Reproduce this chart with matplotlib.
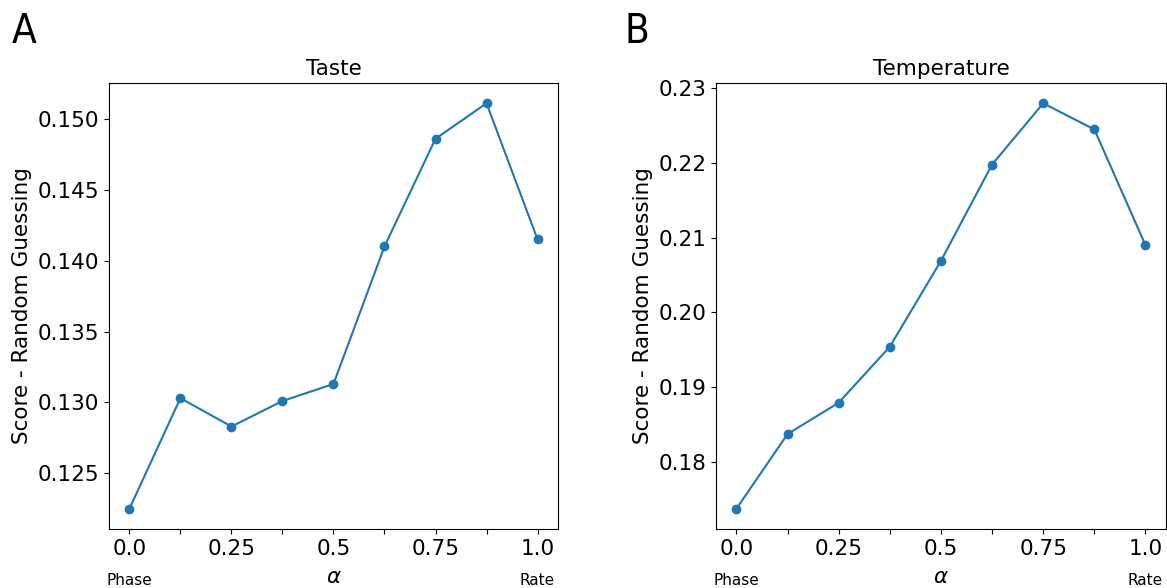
import matplotlib
matplotlib.use("Agg")
import matplotlib.pyplot as plt
import matplotlib.transforms as mtransforms

alpha = [0.0, 0.125, 0.25, 0.375, 0.5, 0.625, 0.75, 0.875, 1.0]
taste = [0.1225, 0.1303, 0.1283, 0.1301, 0.1313, 0.1410, 0.1486, 0.1511, 0.1415]
temperature = [0.1737, 0.1837, 0.1879, 0.1954, 0.2069, 0.2198, 0.2280, 0.2245, 0.2090]
tick_labels = ['0.0', '', '0.25', '', '0.5', '', '0.75', '', '1.0']
titles = ['Taste', 'Temperature']
panel_letters = ['A', 'B']

fig = plt.figure(figsize=(11.67, 5.88), dpi=100)
ax1 = fig.add_axes([0.0934, 0.1003, 0.3847, 0.7585])
ax2 = fig.add_axes([0.6135, 0.1003, 0.3856, 0.7585])

for ax, ys, title in zip([ax1, ax2], [taste, temperature], titles):
    ax.plot(alpha, ys, marker='o', color='#1f77b4')
    ax.set_title(title, fontsize=15.5)
    ax.set_xticks(alpha)
    ax.set_xticklabels(tick_labels)
    ax.tick_params(labelsize=15.5)
    ax.set_xlabel(r'$\alpha$', fontsize=15.5, labelpad=6)
    ax.set_ylabel('Score - Random Guessing', fontsize=15.5)
    trans = mtransforms.blended_transform_factory(ax.transData, ax.transAxes)
    ax.text(0.0, -0.125, 'Phase', transform=trans, ha='center', va='baseline', fontsize=11)
    ax.text(1.0, -0.125, 'Rate', transform=trans, ha='center', va='baseline', fontsize=11)

ax1.set_yticks([0.125, 0.130, 0.135, 0.140, 0.145, 0.150])
ax2.set_yticks([0.18, 0.19, 0.20, 0.21, 0.22, 0.23])

for x, letter in zip([12 / 1167, 625 / 1167], panel_letters):
    fig.text(x, 1 - 43 / 588, letter, fontsize=29, ha='left', va='baseline',
             family='DejaVu Sans', fontstretch='condensed', fontweight='light')

fig.savefig('out.png', dpi=100)
